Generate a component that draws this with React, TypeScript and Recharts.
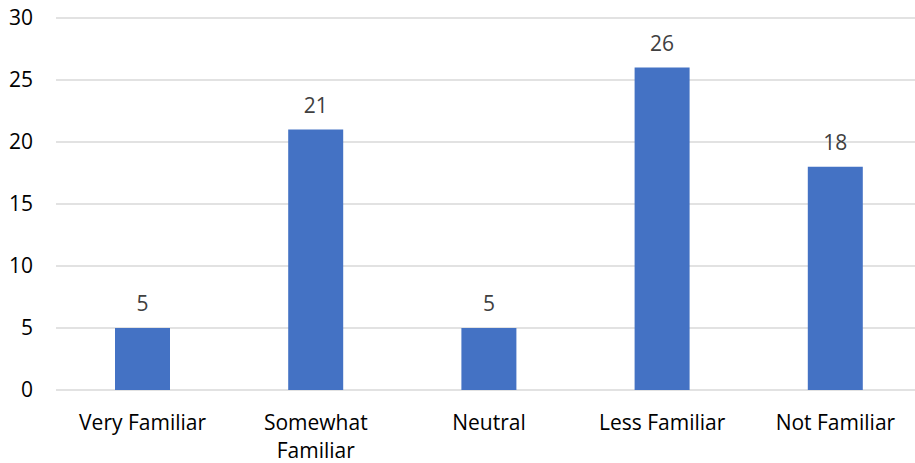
import { Bar, BarChart, CartesianGrid, LabelList, XAxis, YAxis } from "recharts";

const categories = ["Very Familiar", "Somewhat Familiar", "Neutral", "Less Familiar", "Not Familiar"];
const counts = [5, 21, 5, 26, 18];
const yTicks = [0, 5, 10, 15, 20, 25, 30];

const data = categories.map((name, i) => ({ name, count: counts[i] }));

const FONT = "'Open Sans', 'Noto Sans', sans-serif";

// greedy word wrap, Excel breaks the long category names
function wrapLabel(label: string, maxChars: number) {
  const lines: string[] = [];
  let cur = "";
  for (const word of label.split(" ")) {
    const next = cur ? cur + " " + word : word;
    if (next.length > maxChars && cur) {
      lines.push(cur);
      cur = word;
    } else {
      cur = next;
    }
  }
  if (cur) lines.push(cur);
  return lines;
}

function CategoryTick(props: any) {
  const { x, y, payload } = props;
  const lines = wrapLabel(String(payload.value), 14);
  return (
    <text x={x} y={y} textAnchor="middle" fill="#000000" style={{ fontFamily: FONT, fontSize: 21 }}>
      {lines.map((line, i) => (
        <tspan key={i} x={x} dy={i === 0 ? "0.71em" : 28}>
          {line}
        </tspan>
      ))}
    </text>
  );
}

export default function App() {
  return (
    <div style={{ position: "fixed", left: 0, top: 0, width: 915, height: 463, overflow: "hidden", background: "#fff" }}>
      <BarChart
        width={922}
        height={463}
        data={data}
        margin={{ top: 18, right: 0, bottom: 13, left: 0 }}
      >
        <CartesianGrid vertical={false} stroke="#d9d9d9" strokeWidth={1.5} />
        <XAxis
          dataKey="name"
          height={60}
          axisLine={false}
          tickLine={false}
          interval={0}
          tickMargin={19}
          tick={<CategoryTick />}
        />
        <YAxis
          width={56}
          domain={[0, 30]}
          ticks={yTicks}
          axisLine={false}
          tickLine={false}
          tickMargin={17}
          tick={{ fill: "#000000", fontSize: 21, fontFamily: FONT }}
        />
        <Bar dataKey="count" fill="#4472C4" barSize={55} isAnimationActive={false}>
          <LabelList
            dataKey="count"
            position="top"
            offset={17}
            fill="#404040"
            style={{ fontFamily: FONT, fontSize: 21 }}
          />
        </Bar>
      </BarChart>
    </div>
  );
}
